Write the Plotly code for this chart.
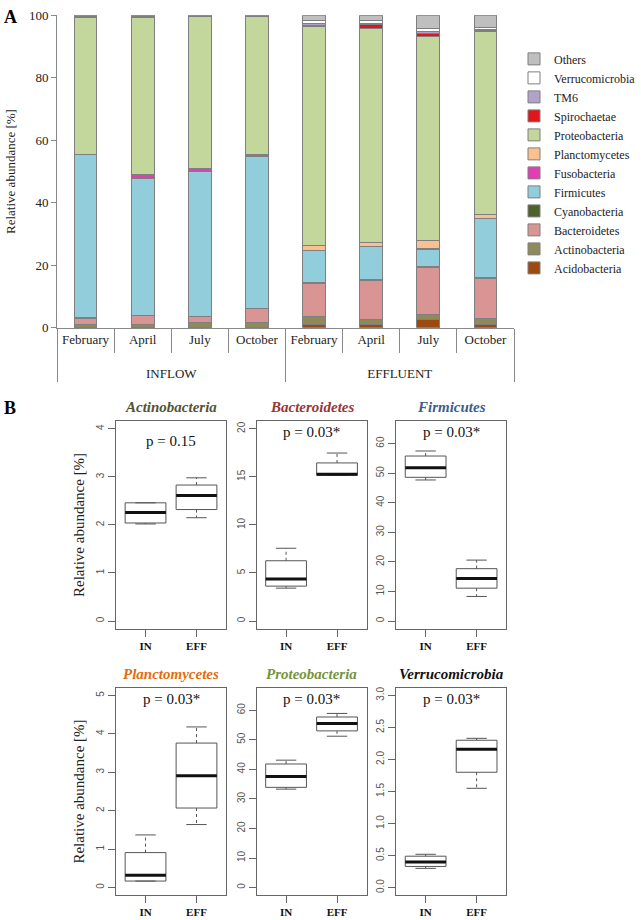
import plotly.graph_objects as go

# ---------------- Panel A data ----------------
groups = ["<br>INFLOW"] * 4 + ["<br>EFFLUENT"] * 4
months = ["February", "April", "July", "October"] * 2

phyla = ["Acidobacteria", "Actinobacteria", "Bacteroidetes", "Cyanobacteria",
         "Firmicutes", "Fusobacteria", "Planctomycetes", "Proteobacteria",
         "Spirochaetae", "TM6", "Verrucomicrobia", "Others"]

acidobacteria = [0.1, 0.1, 0.1, 0.1, 1.05, 1.05, 2.75, 1.05]
actinobacteria = [0.95, 0.9, 1.5, 1.5, 2.5, 1.7, 1.55, 1.75]
bacteroidetes = [2.0, 2.9, 2.0, 4.4, 10.65, 12.35, 14.9, 13.1]
cyanobacteria = [0.1, 0.1, 0.1, 0.1, 0.3, 0.3, 0.3, 0.3]
firmicutes = [52.15, 43.85, 46.2, 48.8, 10.1, 10.5, 5.6, 18.7]
fusobacteria = [0.1, 0.75, 0.7, 0.1, 0.1, 0.1, 0.1, 0.1]
planctomycetes = [0.2, 0.3, 0.4, 0.3, 1.6, 1.3, 2.8, 1.1]
proteobacteria = [43.8, 50.5, 48.6, 44.2, 70.2, 68.5, 65.2, 58.8]
spirochaetae = [0.05, 0.05, 0.05, 0.05, 0.3, 1.4, 1.0, 0.2]
tm6 = [0.05, 0.05, 0.05, 0.05, 0.5, 0.1, 0.5, 0.4]
verrucomicrobia = [0.3, 0.3, 0.2, 0.2, 1.0, 1.1, 1.0, 0.7]
others = [0.2, 0.2, 0.1, 0.2, 1.7, 1.6, 4.3, 3.8]

phylum_values = [acidobacteria, actinobacteria, bacteroidetes, cyanobacteria,
                 firmicutes, fusobacteria, planctomycetes, proteobacteria,
                 spirochaetae, tm6, verrucomicrobia, others]
phylum_colors = ["#9C4A12", "#8F8A5A", "#D99594", "#4F6228", "#92CDDC", "#E33DB5",
                 "#FAC090", "#C3D69B", "#E0161B", "#B3A2C7", "#FFFFFF", "#BFBFBF"]

# ---------------- Panel B data ----------------
box_phyla = ["Actinobacteria", "Bacteroidetes", "Firmicutes",
             "Planctomycetes", "Proteobacteria", "Verrucomicrobia"]
box_groups = ["IN", "EFF"]
p_labels = ["p = 0.15", "p = 0.03*", "p = 0.03*", "p = 0.03*", "p = 0.03*", "p = 0.03*"]
# [IN, EFF] per phylum
whisker_low = [[2.02, 2.15], [3.42, 15.15], [47.7, 8.3], [0.17, 1.64], [33.3, 51.2], [0.30, 1.55]]
quart_1 = [[2.04, 2.32], [3.63, 15.17], [48.6, 11.1], [0.17, 2.07], [33.9, 53.0], [0.33, 1.80]]
medians = [[2.26, 2.61], [4.38, 15.28], [51.8, 14.4], [0.32, 2.91], [37.6, 55.5], [0.40, 2.16]]
quart_3 = [[2.46, 2.83], [6.27, 16.45], [55.8, 17.7], [0.91, 3.76], [41.8, 57.7], [0.49, 2.30]]
whisker_high = [[2.46, 2.98], [7.57, 17.48], [57.5, 20.6], [1.37, 4.18], [43.1, 58.9], [0.52, 2.33]]
y_limits = [[0, 4], [0, 20], [0, 65], [0, 5], [0, 65], [0, 3]]
y_dticks = [1, 5, 10, 1, 10, 0.5]
title_colors = ["#545433", "#953735", "#3B5E91", "#E46C0A", "#77933C", "#111111"]

W, H = 641, 920
SERIF = "Liberation Serif"
SANS = "Liberation Sans"

fig = go.Figure()

# ---- Panel A stacked bars ----
for name, vals, col in zip(phyla, phylum_values, phylum_colors):
    fig.add_trace(go.Bar(
        x=[groups, months], y=vals, name=name,
        marker=dict(color=col, line=dict(color="#7F7F7F", width=1)),
        width=0.4, xaxis="x", yaxis="y", showlegend=True))

# ---- Panel B boxplots ----
col_px = [(118, 230), (261, 373), (403, 515)]
row_px = [(421, 632), (692, 903)]
layout_axes = {}
annotations = []
half_box, half_staple = 0.4, 0.2
for k, ph in enumerate(box_phyla):
    r, c = divmod(k, 3)
    ax = k + 2
    xa, ya = f"x{ax}", f"y{ax}"
    bx, by, mx, my, wx, wy, sx, sy = [], [], [], [], [], [], [], []
    for g in range(2):
        pos = g + 1
        lo, q1, md, q3, hi = (whisker_low[k][g], quart_1[k][g], medians[k][g],
                              quart_3[k][g], whisker_high[k][g])
        bx += [pos - half_box, pos + half_box, pos + half_box, pos - half_box, pos - half_box, None]
        by += [q1, q1, q3, q3, q1, None]
        mx += [pos - half_box, pos + half_box, None]
        my += [md, md, None]
        wx += [pos, pos, None, pos, pos, None]
        wy += [q3, hi, None, q1, lo, None]
        sx += [pos - half_staple, pos + half_staple, None, pos - half_staple, pos + half_staple, None]
        sy += [hi, hi, None, lo, lo, None]
    common = dict(xaxis=xa, yaxis=ya, mode="lines", showlegend=False, hoverinfo="skip")
    fig.add_trace(go.Scatter(x=wx, y=wy, line=dict(color="#555555", width=1, dash="3px,3px"), **common))
    fig.add_trace(go.Scatter(x=sx, y=sy, line=dict(color="#555555", width=1), **common))
    fig.add_trace(go.Scatter(x=bx, y=by, line=dict(color="#555555", width=1), **common))
    fig.add_trace(go.Scatter(x=mx, y=my, line=dict(color="#111111", width=3), **common))

    x0, x1 = col_px[c]
    y0, y1 = row_px[r]
    lo_lim, hi_lim = y_limits[k]
    pad = (hi_lim - lo_lim) * 0.04
    layout_axes[f"xaxis{ax}"] = dict(
        domain=[x0 / W, x1 / W], anchor=ya, range=[0.42, 2.58],
        tickvals=[1, 2], ticktext=[f"<b>{g}</b>" for g in box_groups],
        ticks="outside", ticklen=7, tickcolor="#666", showline=True, mirror=True,
        linecolor="#666", linewidth=1, showgrid=False, zeroline=False,
        tickfont=dict(family=SERIF, size=11, color="#111"))
    layout_axes[f"yaxis{ax}"] = dict(
        domain=[1 - y1 / H, 1 - y0 / H], anchor=xa, range=[lo_lim - pad, hi_lim + pad],
        dtick=y_dticks[k], tick0=0, tickformat=".1f" if y_dticks[k] < 1 else "d",
        ticks="outside", ticklen=7, tickcolor="#666", tickangle=-90,
        showline=True, mirror=True, linecolor="#666", linewidth=1,
        showgrid=False, zeroline=False,
        tickfont=dict(family=SANS, size=10, color="#555"),
        title=dict(text="Relative abundance [%]" if c == 0 else "",
                   font=dict(family=SERIF, size=15, color="#222"), standoff=6))
    annotations.append(dict(
        text=f"<b><i>{ph}</i></b>", xref=f"{xa} domain", yref=f"{ya} domain",
        x=0.5, y=1, yshift=14, yanchor="middle", showarrow=False,
        font=dict(family=SERIF, size=15, color=title_colors[k])))
    annotations.append(dict(
        text=p_labels[k], xref=f"{xa} domain", yref=f"{ya} domain",
        x=0.5, y=0.905 if k == 0 else 0.947, yanchor="middle", showarrow=False,
        font=dict(family=SERIF, size=15, color="#111")))

annotations.append(dict(text="<b>A</b>", xref="paper", yref="paper", x=2 / W, y=1 - 10 / H,
                        xanchor="left", yanchor="middle", showarrow=False,
                        font=dict(family=SERIF, size=18, color="#000")))
annotations.append(dict(text="<b>B</b>", xref="paper", yref="paper", x=2 / W, y=1 - 408 / H,
                        xanchor="left", yanchor="middle", showarrow=False,
                        font=dict(family=SERIF, size=18, color="#000")))

fig.update_layout(
    width=W, height=H, margin=dict(l=0, r=0, t=0, b=0, pad=0),
    paper_bgcolor="white", plot_bgcolor="white",
    barmode="stack", bargap=0.6,
    font=dict(family=SERIF, color="#222"),
    xaxis=dict(domain=[58 / W, 523 / W], anchor="y", type="multicategory",
               showline=True, linecolor="#888", linewidth=1, tickangle=0,
               ticks="outside", ticklen=24, tickcolor="#888",
               showdividers=True, dividercolor="#888", dividerwidth=1,
               tickfont=dict(family=SERIF, size=13, color="#222"), showgrid=False),
    yaxis=dict(domain=[1 - 326 / H, 1 - 8.5 / H], anchor="x", range=[0, 100],
               dtick=20, ticks="outside", ticklen=5, tickcolor="#888",
               showline=True, linecolor="#888", linewidth=1, showgrid=False, zeroline=False,
               tickfont=dict(family=SERIF, size=13, color="#222"),
               title=dict(text="Relative abundance [%]", standoff=10,
                          font=dict(family=SERIF, size=13, color="#222"))),
    legend=dict(x=523 / W, y=1 - 38 / H, xanchor="left", yanchor="top",
                traceorder="reversed", font=dict(family=SERIF, size=12, color="#222"),
                itemwidth=30, bgcolor="rgba(0,0,0,0)"),
    annotations=annotations,
    **layout_axes)

fig.write_html("out.html", config={"displayModeBar": False},
               post_script="document.body.style.margin='0px';document.body.style.overflow='hidden';")
